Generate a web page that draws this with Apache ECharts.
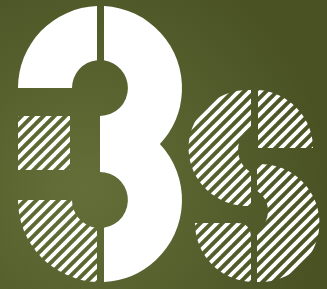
<!DOCTYPE html>
<html>
<head>
    <meta charset="utf-8">
    <title>3s</title>
    <script src="https://cdn.jsdelivr.net/npm/echarts@6/dist/echarts.min.js"></script>
    <style>
        html, body { margin: 0; padding: 0; }
        #logo { width: 327px; height: 289px; }
    </style>
</head>
<body>
    <div id="logo"></div>
    <script>
        // the picture is a stencil logo, not a chart: its "values" are the two glyphs
        var glyphs = ['3', 's'];
        var solidParts = ['3-top-left', '3-right'];
        var hatchParts = ['3-mid-left', '3-bottom-left', 's-top-left', 's-top-right', 's-mid-right', 's-bottom-left'];

        // outlines of each stencil piece (svg path syntax)
        var pieces = {
            '3-top-left': 'M18 88 A82 82 0 0 1 97 6.05 L97 60.16 A28 28 0 0 0 72 88 Z',
            '3-right': 'M104 6.1 A82 82 0 0 1 159.9 144 A82 82 0 0 1 104 281.9 L104 227.7 ' +
                       'A28 28 0 0 0 100 172 L100 116 A28 28 0 0 0 104 60.3 Z',
            '3-mid-left': 'M18 116 L70 116 L70 170 L18 170 Z',
            '3-bottom-left': 'M18 200 L72 200 A28 28 0 0 0 97 227.84 L97 281.95 A82 82 0 0 1 18 200 Z',
            's-top-left': 'M251 90.1 A59 58 0 1 0 251 205.9 L251 172.5 A26 26 0 0 1 251 127.5 Z',
            's-top-right': 'M258 90.1 A59 58 0 0 1 313 148 L258 148 Z',
            's-mid-right': 'M257 164.1 A59 59 0 1 1 257 281.9 L257 231.2 A24 24 0 0 0 257 190.8 Z',
            's-bottom-left': 'M195 223 L237 223 Q251 223 251 238 L251 281.9 A59 59 0 0 1 195 223 Z'
        };

        function makeHatch() {
            var p = 11;
            var c = document.createElement('canvas');
            c.width = p;
            c.height = p;
            var ctx = c.getContext('2d');
            ctx.strokeStyle = '#ffffff';
            ctx.lineWidth = 3.8;
            ctx.lineCap = 'square';
            for (var k = -1; k <= 1; k++) {
                ctx.beginPath();
                ctx.moveTo(k * p, p);
                ctx.lineTo(k * p + p, 0);
                ctx.stroke();
            }
            return c;
        }

        var hatch = { image: makeHatch(), repeat: 'repeat' };
        var myChart = echarts.init(document.getElementById('logo'));

        function renderLogo(params, api) {
            var children = [];
            solidParts.forEach(function (name) {
                children.push({ type: 'path', shape: { pathData: pieces[name] }, style: { fill: '#ffffff' } });
            });
            hatchParts.forEach(function (name) {
                children.push({ type: 'path', shape: { pathData: pieces[name] }, style: { fill: hatch } });
            });
            return { type: 'group', children: children };
        }

        myChart.setOption({
            animation: false,
            aria: { enabled: true, label: { description: glyphs.join('') } },
            graphic: [{
                type: 'rect',
                silent: true,
                z: -10,
                shape: { x: 0, y: 0, width: 327, height: 289 },
                style: {
                    fill: {
                        type: 'radial', x: 0.25, y: 0.65, r: 0.85,
                        colorStops: [
                            { offset: 0, color: '#646f38' },
                            { offset: 0.6, color: '#545e2c' },
                            { offset: 1, color: '#4a5224' }
                        ]
                    }
                }
            }],
            series: [{
                type: 'custom',
                coordinateSystem: 'none',
                silent: true,
                data: [glyphs.join('')],
                renderItem: renderLogo
            }]
        });
    </script>
</body>
</html>
